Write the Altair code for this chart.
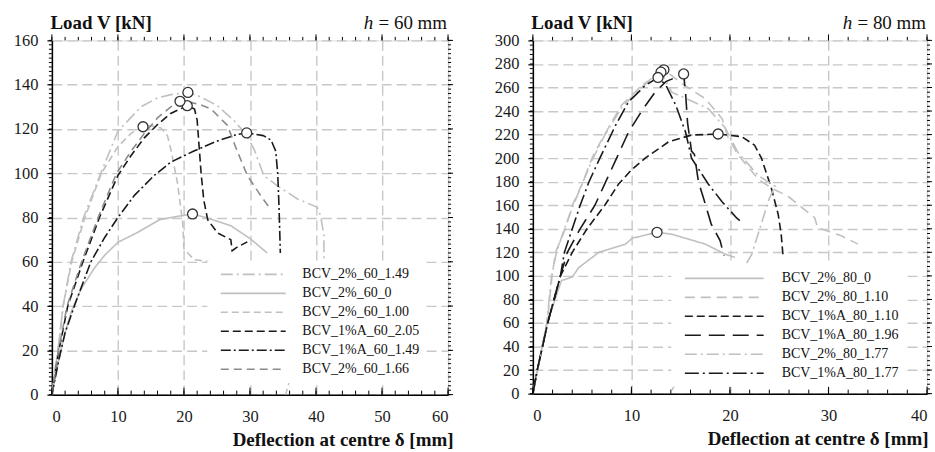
import altair as alt
import pandas as pd

FONT = "Liberation Serif"

# ---------------- left panel (h = 60 mm) ----------------
L_NAMES = ["BCV_2%_60_1.49", "BCV_2%_60_0", "BCV_2%_60_1.00",
           "BCV_1%A_60_2.05", "BCV_1%A_60_1.49", "BCV_2%_60_1.66"]
L_COLORS = ["#c0c0c0", "#c0c0c0", "#c0c0c0", "#1a1a1a", "#1a1a1a", "#8c8c8c"]
L_DASHES = [[12, 4, 2, 4], [1, 0], [7, 4], [8, 4], [10, 3, 2, 3], [8, 5]]

L_X = [
    [0, 0.5, 1, 1.7, 2.9, 4.8, 7.4, 10, 13.5, 16, 18, 20.6, 22, 25, 27.5, 29.3, 30.6, 32.1, 34.1, 37.2, 40.2, 40.7, 41.2, 41.2, 35.4],
    [0, 1, 2, 3, 4.4, 6.4, 8, 10, 13, 16.3, 19, 21.3, 23.3, 27.1, 30.1, 32.6],
    [0, 1, 1.7, 3, 5, 7.5, 10, 12, 13.8, 15, 16.5, 17.5, 18, 19, 19.8, 20, 21.5, 24],
    [0, 1, 2.4, 4.7, 7.2, 10, 12, 14, 16, 18, 20.5, 21.6, 22, 22.3, 22.6, 23, 23.6, 25.1, 27.1, 27.3, 28, 29.6],
    [0, 1, 2, 3.4, 5.9, 8, 10, 12.5, 15.5, 18, 21.5, 25, 28, 29.5, 32, 33.2, 33.9, 34.2, 34.4, 34.6],
    [0, 1, 2.3, 4.5, 7, 9.8, 12, 14, 16, 18, 19.4, 21, 22.5, 24.1, 26.6, 27.8, 29.6, 31.6, 32.9],
]
L_Y = [
    [0, 12, 22, 40, 60, 80, 100, 119, 130, 134, 135.5, 136.5, 135.2, 130.7, 124, 118, 111, 99, 94.4, 88.4, 84.6, 80.8, 72, 62, 0],
    [0, 15, 28, 38, 47.6, 57, 63, 68.8, 73.3, 79, 80.5, 81.6, 80, 76.3, 70.3, 64],
    [0, 22, 40, 60, 80, 100, 112, 118, 121, 121.5, 120.5, 117, 111, 96, 78, 66, 61, 60],
    [0, 19, 40, 60, 80, 99, 108, 116, 122, 127, 130.5, 129, 124, 112, 100, 88, 79, 73, 70, 65, 66.5, 69],
    [0, 15, 28, 40, 60, 71, 80, 90, 99, 105, 110, 114.5, 117.5, 118.2, 117, 115, 110, 100, 85, 64],
    [0, 20, 40, 60, 80, 100, 110, 118, 125, 130, 132.5, 132, 131, 129, 121.6, 112, 99, 90, 84.6],
]
L_PEAK_X = [20.6, 21.3, 13.8, 20.5, 29.5, 19.4]
L_PEAK_Y = [136.5, 81.6, 121, 130.5, 118.2, 132.5]
L_XTICKS = [0, 10, 20, 30, 40, 50, 60]
L_XMINOR = list(range(0, 61, 2))
L_YTICKS = [0, 20, 40, 60, 80, 100, 120, 140, 160]
L_YMINOR = list(range(0, 161, 2))

# ---------------- right panel (h = 80 mm) ----------------
R_NAMES = ["BCV_2%_80_0", "BCV_2%_80_1.10", "BCV_1%A_80_1.10",
           "BCV_1%A_80_1.96", "BCV_2%_80_1.77", "BCV_1%A_80_1.77"]
R_COLORS = ["#c0c0c0", "#c0c0c0", "#1a1a1a", "#1a1a1a", "#c0c0c0", "#1a1a1a"]
R_DASHES = [[1, 0], [10, 6], [8, 4], [16, 8], [12, 4, 2, 4], [14, 4, 2, 4]]

R_X = [
    [0, 0.45, 1.45, 2.9, 4, 4.65, 6.7, 9.4, 10.1, 12.6, 14.1, 17.5, 19.5, 20.5],
    [0, 0.45, 1.45, 1.95, 2.3, 3.3, 4, 5, 6, 7, 9, 11.1, 13.3, 15.4, 17.5, 19.2, 19.8, 20.8, 22.9, 24.2, 25.9, 28.6, 28.9, 31.3, 33],
    [0, 0.45, 1.5, 2.8, 4, 5.5, 7.3, 8.7, 10, 11.4, 13.8, 16.1, 18.8, 21.2, 22.5, 23.2, 24.2, 24.9, 25.2, 25.4],
    [0, 0.45, 1.5, 2.8, 3.5, 4.8, 6.3, 7.4, 8.5, 9.7, 11.2, 12.4, 13.5, 15.3, 15.5, 15.7, 16.1, 16.4, 16.8, 17.5, 18.1, 19, 19.4],
    [0, 0.5, 1.4, 1.9, 2.4, 3.2, 4.1, 5.1, 6, 7.2, 9, 11, 13, 14.1, 16, 17.8, 19.5, 20.8, 22.9, 24.6, 24, 22.2, 14.1],
    [0, 0.45, 1.5, 2.8, 3.2, 4, 4.8, 5.7, 6.8, 8.4, 9.7, 11.4, 12.7, 13.5, 14.5, 15.5, 16.1, 17.8, 19.2, 20.7, 21],
]
R_Y = [
    [0, 20, 60, 96, 99, 107, 120, 127, 132, 137, 135.4, 127, 118.5, 115.7],
    [0, 20, 60, 100, 120, 140, 160, 178, 200, 216, 245, 262, 275, 261.7, 250.5, 233.6, 218, 203, 182, 174.6, 167.6, 149.4, 141, 134, 127],
    [0, 20, 60, 100, 120, 140, 160, 178, 190, 200, 214, 219.6, 220.5, 218.2, 211, 200, 174.6, 152.2, 135.4, 115.7],
    [0, 20, 60, 100, 120, 140, 160, 180, 200, 222, 242, 256, 265, 271.5, 255, 230, 206, 203, 180, 161, 144, 130, 117],
    [0, 20, 60, 100, 120, 140, 160, 180, 198, 218, 243, 260, 273, 256, 249, 242, 226, 205, 185, 176, 166, 118, 3],
    [0, 20, 60, 100, 120, 140, 160, 180, 200, 228, 247.7, 261.7, 268.5, 262, 245, 222, 200, 178, 163, 149, 147],
]
R_PEAK_X = [12.6, 13.3, 18.8, 15.3, 13.0, 12.7]
R_PEAK_Y = [137, 275, 220.5, 271.5, 273, 268.5]
R_XTICKS = [0, 10, 20, 30, 40]
R_XMINOR = list(range(0, 41, 2))
R_YTICKS = list(range(0, 301, 20))
R_YMINOR = list(range(0, 301, 4))


def panel(names, colors, dashes, xs, ys, pkx, pky, xmax, ymax,
          xticks, xminor, yticks, yminor, width, height, h_text,
          sym_path, leg_x, leg_y, lab_off, xtitle_dx, ytitle_y):
    rows = []
    for n, sx, sy in zip(names, xs, ys):
        for i, (a, b) in enumerate(zip(sx, sy)):
            rows.append({"series": n, "x": a, "y": b, "i": i})
    df = pd.DataFrame(rows)
    pk = pd.DataFrame({"x": pkx, "y": pky})

    xsc = alt.Scale(domain=[0, xmax], nice=False, zero=False)
    ysc = alt.Scale(domain=[0, ymax], nice=False, zero=False)

    common = dict(labelFont=FONT, labelFontSize=16.5, labelColor="#1a1a1a",
                  domainColor="black", domainWidth=1.5,
                  gridColor="#c8c8c8", gridDash=[10, 5], gridWidth=1.4,
                  tickColor="black", titleFont=FONT, titleColor="#111",
                  titleFontSize=19, titleFontWeight="bold")

    xaxis = alt.Axis(orient="bottom", values=xticks, grid=True, ticks=False,
                     tickSize=0, labelPadding=14, format="d",
                     title="Deflection at centre δ [mm]",
                     titleAlign="right", titleAnchor="end",
                     titleX=width + xtitle_dx, titleY=51,
                     titleBaseline="alphabetic", **common)
    yaxis = alt.Axis(orient="left", values=yticks, grid=True, ticks=True,
                     tickSize=5, tickWidth=1.2, labelPadding=9, format="d",
                     title="Load V [kN]", titleAngle=0, titleAlign="left",
                     titleX=-2, titleY=ytitle_y, titleBaseline="alphabetic",
                     **common)

    leg = alt.Legend(title=None, orient="none", legendX=leg_x, legendY=leg_y,
                     symbolType=sym_path, symbolSize=169, symbolStrokeWidth=1.6,
                     labelFont=FONT, labelFontSize=14, labelColor="#111",
                     labelOffset=lab_off, labelLimit=300, rowPadding=4,
                     padding=6, fillColor="white")

    lines = alt.Chart(df).mark_line(strokeWidth=1.6).encode(
        x=alt.X("x:Q", scale=xsc, axis=xaxis),
        y=alt.Y("y:Q", scale=ysc, axis=yaxis),
        color=alt.Color("series:N", scale=alt.Scale(domain=names, range=colors),
                        legend=leg),
        strokeDash=alt.StrokeDash("series:N",
                                  scale=alt.Scale(domain=names, range=dashes),
                                  legend=leg),
        order="i:Q",
    )
    circles = alt.Chart(pk).mark_point(shape="circle", size=100, filled=True,
                                       fill="white", stroke="#333",
                                       strokeWidth=1.3, opacity=1).encode(
        x=alt.X("x:Q", scale=xsc, axis=xaxis),
        y=alt.Y("y:Q", scale=ysc, axis=yaxis),
    )

    # frame tick marks drawn from the tick-value lists
    def xt(values, y0, y1):
        return alt.Chart(pd.DataFrame({"x": values})).mark_rule(
            color="black", strokeWidth=1).encode(
            x=alt.X("x:Q", scale=xsc, axis=xaxis),
            y=alt.value(y0), y2=alt.value(y1))

    def yt(values, x0, x1):
        return alt.Chart(pd.DataFrame({"y": values})).mark_rule(
            color="black", strokeWidth=1).encode(
            y=alt.Y("y:Q", scale=ysc, axis=yaxis),
            x=alt.value(x0), x2=alt.value(x1))

    tick_layers = [
        xt(xminor, height - 4, height), xt(xticks, height - 7, height),
        xt(xminor, -3.5, 0), xt(xticks, -6, 0),
        yt(yminor, -3, 0),
        yt(yminor, width, width + 3), yt(yticks, width, width + 5),
    ]

    htxt = alt.Chart(pd.DataFrame({"t": [h_text[1]]})).mark_text(
        align="right", baseline="alphabetic", font=FONT, fontSize=19,
        color="#111").encode(x=alt.value(width - 1), y=alt.value(ytitle_y),
                             text="t:N")
    hital = alt.Chart(pd.DataFrame({"t": [h_text[0]]})).mark_text(
        align="right", baseline="alphabetic", font=FONT, fontSize=19,
        fontStyle="italic", color="#111").encode(
        x=alt.value(width - 75), y=alt.value(ytitle_y), text="t:N")

    return alt.layer(lines, *tick_layers, circles, htxt, hital).properties(
        width=width, height=height)


left = panel(L_NAMES, L_COLORS, L_DASHES, L_X, L_Y, L_PEAK_X, L_PEAK_Y, 60, 160,
             L_XTICKS, L_XMINOR, L_YTICKS, L_YMINOR, 397, 355, ("h", " = 60 mm"),
             "M0,0H10", 155.8, 221, 74.2, 5, -11.5)
right = panel(R_NAMES, R_COLORS, R_DASHES, R_X, R_Y, R_PEAK_X, R_PEAK_Y, 40, 300,
              R_XTICKS, R_XMINOR, R_YTICKS, R_YMINOR, 395, 354, ("h", " = 80 mm"),
              "M0,0H12.15", 138.8, 225, 89.5, 1, -11.5)

chart = alt.hconcat(left, right, spacing=39).resolve_scale(
    color="independent", strokeDash="independent"
).resolve_legend(
    color="independent", strokeDash="independent"
).properties(
    padding={"left": 12, "top": 13, "right": 2, "bottom": 0},
    background="white",
).configure_view(stroke="black", strokeWidth=1.5).configure(font=FONT)

chart.save("out.html", embed_options={"renderer": "svg", "actions": False})
